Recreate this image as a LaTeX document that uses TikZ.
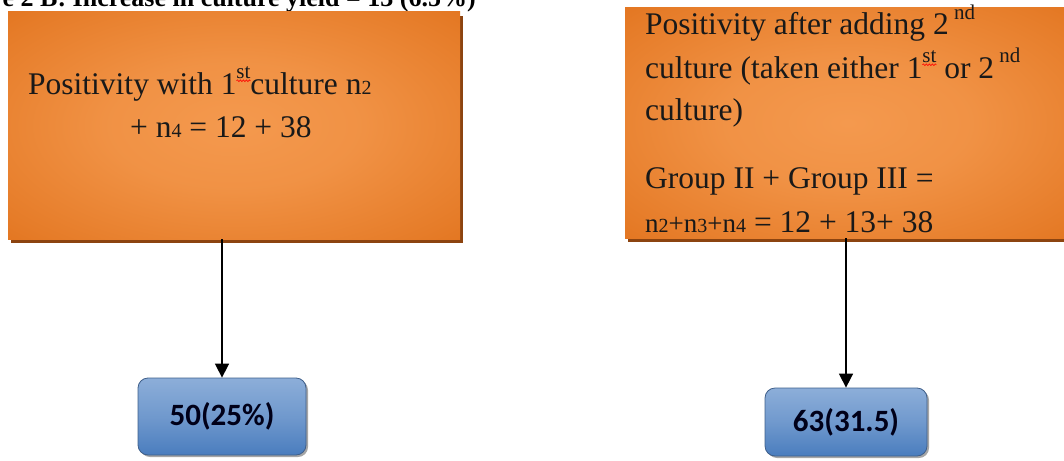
\documentclass[tikz,border=0pt]{standalone}
\usepackage{fontspec}
\setmainfont{Liberation Serif}
\newfontfamily\carlito{Carlito}
\usetikzlibrary{shadows,arrows.meta,decorations.pathmorphing}
\definecolor{olight}{HTML}{F4994E}
\definecolor{odark}{HTML}{DC680F}
\definecolor{oshadow}{HTML}{8C4410}
\definecolor{btop}{HTML}{A9C3E4}
\definecolor{bmid}{HTML}{4A7DBE}
\definecolor{bbot}{HTML}{6A94CC}
\definecolor{bborder}{HTML}{3F5F8A}
\pgfdeclareradialshading{oglow}{\pgfpoint{0bp}{0bp}}{color(0bp)=(olight); color(14bp)=(olight!85!odark); color(32bp)=(olight!40!odark); color(46bp)=(odark); color(100bp)=(odark)}
\pgfdeclareverticalshading{bgloss}{100bp}{color(0bp)=(bbot); color(25bp)=(bmid); color(50bp)=(bmid!60!btop); color(100bp)=(btop)}
\newcommand{\sbx}[1]{{\fontsize{20}{20}\selectfont #1}}
\newcommand{\supx}[1]{\raisebox{0.5em}{\fontsize{21}{21}\selectfont #1}}
\newlength\spellw
\newcommand{\spellsup}[1]{\raisebox{0.5em}{\fontsize{21}{21}\selectfont\settowidth\spellw{#1}#1\tikz[overlay]\draw[red, line width=0.6pt, decorate, decoration={snake, amplitude=0.9pt, segment length=3pt}] (-\spellw,-2.5pt) -- (0pt,-2.5pt);}}
\tikzset{
  obox/.style={rectangle, draw=none, shading=oglow, inner sep=0pt,
    drop shadow={shadow xshift=3pt, shadow yshift=-4pt, fill=oshadow, opacity=1}},
  otext/.style={anchor=base west, inner sep=0pt, text=black!90,
    font=\fontsize{31.5}{36}\selectfont},
  bres/.style={rectangle, rounded corners=10pt, draw=bborder, line width=0.8pt,
    shading=bgloss, inner sep=0pt, text=black!90!blue,
    font=\carlito\bfseries\fontsize{31}{36}\selectfont,
    drop shadow={shadow xshift=2pt, shadow yshift=-2pt, fill=black, opacity=0.35}},
  arr/.style={line width=1.6pt, -{Triangle[length=14pt,width=14pt]}}
}
\begin{document}
\begin{tikzpicture}[x=1pt,y=-1pt]
\useasboundingbox (0,0) rectangle (1064,460);
\clip (0,0) rectangle (1064,460);
\node[anchor=base east, inner sep=0pt, font=\bfseries\fontsize{26}{30}\selectfont] (title) at (476,7) {e 2 B: Increase in culture yield = 13 (6.5\%)};
% left branch
\node[obox, minimum width=452pt, minimum height=227pt] (lbox) at (234,125.5) {};
\node[otext] (l1) at (28,94) {Positivity with 1\spellsup{st}culture n\sbx{2}};
\node[otext] (l2) at (130,137) {+ n\sbx{4} = 12 + 38};
\node[bres, minimum width=168pt, minimum height=77pt] (lres) at (222,416.5) {50(25\%)};
\draw[arr] (lres.north |- lbox.south) -- (lres.north);
% right branch
\node[obox, minimum width=446pt, minimum height=230pt] (rbox) at (848,123) {};
\node[otext] (r1) at (645,35) {Positivity after adding 2\,\supx{nd}};
\node[otext] (r2) at (645,78) {culture (taken either 1\spellsup{st} or 2\,\supx{nd}};
\node[otext] (r3) at (645,120) {culture)};
\node[otext] (r4) at (645,188) {Group II + Group III =};
\node[otext] (r5) at (645,232) {{\fontsize{27}{30}\selectfont n\sbx{2}+n\sbx{3}+n\sbx{4}} = 12 + 13+ 38};
\node[bres, minimum width=162pt, minimum height=68pt] (rres) at (846,422) {63(31.5)};
\draw[arr] (rres.north |- rbox.south) -- (rres.north);
\end{tikzpicture}
\end{document}
